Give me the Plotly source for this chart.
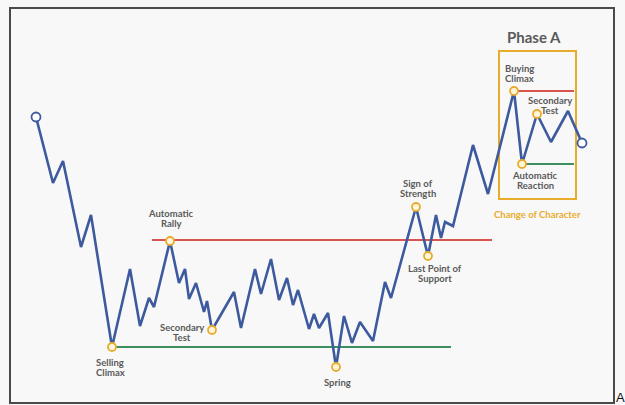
import plotly.graph_objects as go

# ---- data (price path, pixel-like chart units) ----
path_x = [36, 53, 63, 81, 91, 112, 130, 140, 149, 154, 170, 179, 185, 189, 196, 204, 207, 212,
          234, 241, 255, 261, 271, 279, 287, 293, 298, 309, 314, 319, 328, 336, 344, 352, 360,
          373, 385, 391, 416, 428, 436, 441, 445, 453, 473, 488, 514, 522, 537, 551, 568, 582]
path_y = [117, 183, 161, 247, 215, 347, 269, 326, 298, 307, 241, 283, 269, 299, 283, 312, 301, 330,
          292, 328, 269, 294, 259, 300, 278, 305, 290, 329, 314, 328, 313, 367, 316, 343, 322,
          341, 282, 298, 207, 256, 215, 238, 222, 226, 145, 194, 91, 164, 114, 142, 111, 143]

# events (indices into the path)
event_names = ["Selling Climax", "Automatic Rally", "Secondary Test", "Spring",
               "Sign of Strength", "Last Point of Support", "Buying Climax",
               "Automatic Reaction", "Secondary Test (Phase A)"]
event_idx = [5, 10, 17, 31, 38, 39, 46, 47, 48]

# label texts and anchor positions (x center, y of first line)
label_text = ["Selling<br>Climax", "Automatic<br>Rally", "Secondary<br>Test", "Spring",
              "Sign of<br>Strength", "Last Point of<br>Support", "Buying<br>Climax",
              "Automatic<br>Reaction", "Secondary<br>Test"]
label_x = [110, 171, 182, 337, 418, 435, 519, 535, 550]
label_y = [362, 213, 327, 382, 183, 268, 68, 175, 100]

# horizontal levels: (x0, x1, y)
resistance = (152, 492, 240)
support = (112, 451, 347)
phase_res = (514, 574, 91)
phase_sup = (522, 574, 164)
phase_box = (499, 51, 576, 199)

BLUE = "#3d5a9e"
RED = "#d9534f"
GREEN = "#3d8f5e"
ORANGE = "#e8ac2c"
TXT = "#5a5a5a"

fig = go.Figure()

for (x0, x1, y), col in [(resistance, RED), (support, GREEN), (phase_res, RED), (phase_sup, GREEN)]:
    fig.add_trace(go.Scatter(x=[x0, x1], y=[y, y], mode="lines",
                             line=dict(color=col, width=2), hoverinfo="skip", showlegend=False))

fig.add_trace(go.Scatter(x=path_x, y=path_y, mode="lines",
                         line=dict(color=BLUE, width=2.6), hoverinfo="skip", showlegend=False))

# start / end open circles
fig.add_trace(go.Scatter(x=[path_x[0], path_x[-1]], y=[path_y[0], path_y[-1]], mode="markers",
                         marker=dict(size=9, color="#ffffff", line=dict(color=BLUE, width=1.8)),
                         hoverinfo="skip", showlegend=False))

# event markers
fig.add_trace(go.Scatter(x=[path_x[i] for i in event_idx], y=[path_y[i] for i in event_idx],
                         mode="markers", text=event_names,
                         marker=dict(size=8, color="#fff6dc", line=dict(color=ORANGE, width=1.8)),
                         hoverinfo="text", showlegend=False))

annotations = []
for t, x, y in zip(label_text, label_x, label_y):
    for k, line in enumerate(t.split("<br>")):
        annotations.append(dict(x=x, y=y + k * 10.5, text=line, showarrow=False,
                                xanchor="center", yanchor="middle",
                                font=dict(family="Lato", size=9.5, color=TXT, weight="bold")))

annotations.append(dict(x=534, y=37, text="Phase A", showarrow=False, xanchor="center",
                        yanchor="middle", font=dict(family="Lato", size=15, color=TXT, weight="bold")))
annotations.append(dict(x=537, y=214, text="Change of Character", showarrow=False,
                        xanchor="center", yanchor="middle",
                        font=dict(family="Lato", size=9.5, color=ORANGE, weight="bold")))
annotations.append(dict(x=615, y=397, text="A", showarrow=False, xanchor="left",
                        yanchor="middle", borderpad=0,
                        font=dict(family="Liberation Sans", size=13, color="#111111")))

shapes = [
    dict(type="rect", x0=10, y0=8, x1=614, y1=403, line=dict(color="#4a4a4a", width=2),
         fillcolor="rgba(0,0,0,0)", layer="below"),
    dict(type="rect", x0=phase_box[0], y0=phase_box[1], x1=phase_box[2], y1=phase_box[3],
         line=dict(color=ORANGE, width=2), fillcolor="rgba(0,0,0,0)", layer="below"),
]

fig.update_layout(
    width=625, height=405,
    margin=dict(l=0, r=0, t=0, b=0),
    paper_bgcolor="#f8f8f8", plot_bgcolor="#f8f8f8",
    xaxis=dict(range=[0, 625], visible=False, fixedrange=True),
    yaxis=dict(range=[405, 0], visible=False, fixedrange=True),
    annotations=annotations, shapes=shapes,
    showlegend=False,
)

fig.write_html("out.html", config=dict(displayModeBar=False))
